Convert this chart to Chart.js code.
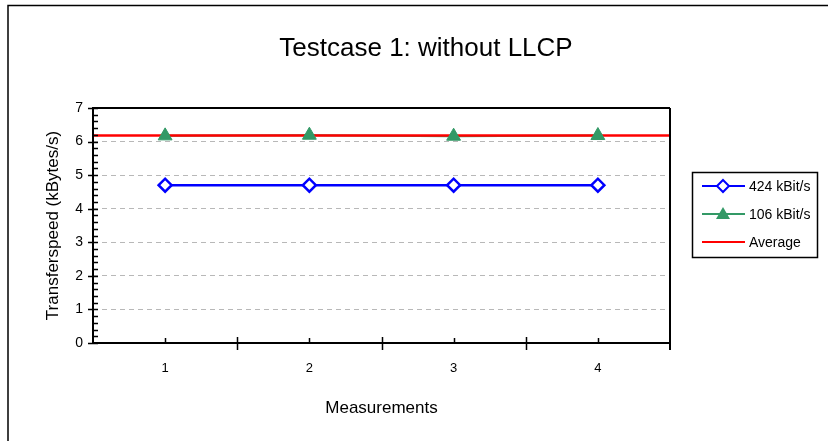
<!DOCTYPE html>
<html>
<head>
<meta charset="utf-8">
<script src="https://cdn.jsdelivr.net/npm/chart.js@4/dist/chart.umd.min.js"></script>
<style>
  body { margin: 0; background: #fff; }
  #wrap { width: 828px; height: 441px; }
</style>
</head>
<body>
<div id="wrap"><canvas id="line-chart" width="828" height="441"></canvas></div>
<script>
// Chart data
var chartTitle = "Testcase 1: without LLCP";
var measurements = ["1", "2", "3", "4"];
var speed424 = [4.7, 4.7, 4.7, 4.7];
var speed106 = [6.17, 6.19, 6.16, 6.18];
var averageLine = [6.18, 6.18];   // average of the 106 kBit/s run, drawn across the plot
var yMin = 0, yMax = 7, yStep = 1, yMinorStep = 0.2;

var FONT = '"Liberation Sans", Arial, sans-serif';
var BLUE = "#0000FF", GREEN = "#339966", RED = "#FF0000";

// frame, excel style ticks, title and legend
var excelFrame = {
    id: "excelFrame",
    beforeDraw: function(chart) {
        var c = chart.ctx;
        c.save();
        c.strokeStyle = "#000";
        c.lineWidth = 1.5;
        c.strokeRect(8, 5.5, 900, 500);
        c.restore();
    },
    afterDraw: function(chart) {
        var c = chart.ctx, a = chart.chartArea;
        var xs = chart.scales.x, ys = chart.scales.y;
        c.save();
        c.strokeStyle = "#000";

        // plot border
        c.lineWidth = 2;
        c.beginPath();
        c.moveTo(a.left, a.top); c.lineTo(a.right, a.top);
        c.moveTo(a.right, a.top); c.lineTo(a.right, a.bottom + 7);
        c.moveTo(a.left, a.top - 1); c.lineTo(a.left, a.bottom);
        c.moveTo(a.left, a.bottom); c.lineTo(a.right, a.bottom);
        c.stroke();

        // y ticks
        c.lineWidth = 1.5;
        c.beginPath();
        for (var v = yMin; v <= yMax + 0.001; v += yMinorStep) {
            var y = Math.round(ys.getPixelForValue(v)) + 0.5;
            var major = Math.abs(v - Math.round(v)) < 0.001;
            c.moveTo(major ? a.left - 5 : a.left, y);
            c.lineTo(a.left + 5, y);
        }
        // x ticks
        for (var i = 0; i < measurements.length; i++) {
            var xc = Math.round(xs.getPixelForValue(i)) + 0.5;
            c.moveTo(xc, a.bottom); c.lineTo(xc, a.bottom - 5);
            if (i > 0) {
                var xb = Math.round(xs.getPixelForValue(i - 0.5)) + 0.5;
                c.moveTo(xb, a.bottom - 6); c.lineTo(xb, a.bottom + 7);
            }
        }
        c.stroke();

        // title
        c.fillStyle = "#000";
        c.font = "26px " + FONT;
        c.textAlign = "center";
        c.textBaseline = "alphabetic";
        c.fillText(chartTitle, 426, 56);

        // legend
        var lx = 692.5, ly = 172.5, lw = 125, lh = 85;
        c.lineWidth = 1.5;
        c.strokeRect(lx, ly, lw, lh);
        var items = [
            {label: chart.data.datasets[0].label, color: BLUE, marker: "diamond"},
            {label: chart.data.datasets[1].label, color: GREEN, marker: "triangle"},
            {label: chart.data.datasets[3].label, color: RED, marker: null}
        ];
        c.font = "14px " + FONT;
        c.textAlign = "left";
        c.textBaseline = "middle";
        items.forEach(function(it, k) {
            var yy = 186 + k * 28;
            c.strokeStyle = it.color;
            c.lineWidth = 2;
            c.beginPath();
            c.moveTo(702, yy); c.lineTo(745, yy);
            c.stroke();
            var mx = 723;
            if (it.marker === "diamond") {
                c.fillStyle = "#fff";
                c.beginPath();
                c.moveTo(mx, yy - 6); c.lineTo(mx + 6, yy); c.lineTo(mx, yy + 6); c.lineTo(mx - 6, yy);
                c.closePath();
                c.fill(); c.stroke();
            } else if (it.marker === "triangle") {
                c.fillStyle = it.color;
                c.beginPath();
                c.moveTo(mx, yy - 7); c.lineTo(mx + 7, yy + 5); c.lineTo(mx - 7, yy + 5);
                c.closePath();
                c.fill();
            }
            c.fillStyle = "#000";
            c.fillText(it.label, 749, yy + 1);
        });
        c.restore();
    }
};

var ctx = document.getElementById("line-chart");

var chartData = {
    labels: measurements,
    datasets: [{
        label: "424 kBit/s",
        data: speed424,
        borderColor: BLUE,
        borderWidth: 2.5,
        pointStyle: "rectRot",
        pointRadius: 6.5,
        pointBorderWidth: 2.5,
        pointBorderColor: BLUE,
        pointBackgroundColor: "#FFF",
        order: 1
    }, {
        label: "106 kBit/s",
        data: speed106,
        borderColor: GREEN,
        borderWidth: 2,
        pointRadius: 0,
        order: 3
    }, {
        // markers of the 106 kBit/s run, drawn above the average line
        label: "106 kBit/s markers",
        data: speed106,
        showLine: false,
        pointStyle: "triangle",
        pointRadius: 8,
        pointBorderWidth: 1,
        pointBorderColor: GREEN,
        pointBackgroundColor: GREEN,
        order: 0
    }, {
        label: "Average",
        data: [{x: 0, y: averageLine[0]}, {x: 1, y: averageLine[1]}],
        xAxisID: "xAvg",
        borderColor: RED,
        borderWidth: 2.5,
        pointRadius: 0,
        order: 2
    }]
};

var config = {
    type: "line",
    data: chartData,
    plugins: [excelFrame],
    options: {
        responsive: false,
        animation: false,
        events: [],
        layout: { padding: { left: 43, right: 158, top: 108, bottom: 22 } },
        plugins: {
            legend: { display: false },
            title: { display: false },
            tooltip: { enabled: false }
        },
        scales: {
            x: {
                type: "category",
                offset: true,
                grid: { display: false, drawTicks: false },
                border: { display: false },
                ticks: { color: "#000", padding: 18, font: { family: FONT, size: 13 } },
                title: { display: true, text: "Measurements", color: "#000", padding: 0,
                         font: { family: FONT, size: 17 } },
                afterFit: function(s) { s.height = 76; }
            },
            xAvg: {
                type: "linear",
                display: false,
                min: 0,
                max: 1
            },
            y: {
                min: yMin,
                max: yMax,
                ticks: { stepSize: yStep, color: "#000", padding: 10, font: { family: FONT, size: 14 } },
                grid: {
                    drawTicks: false,
                    lineWidth: 1,
                    color: function(c) {
                        var v = c.tick ? c.tick.value : 0;
                        return (v === yMin || v === yMax) ? "rgba(0,0,0,0)" : "#B8B8B8";
                    },
                    borderDash: [5, 4]
                },
                border: { display: false, dash: [5, 4] },
                title: { display: true, text: "Transferspeed (kBytes/s)", color: "#000", padding: 0,
                         font: { family: FONT, size: 17 } },
                afterFit: function(s) { s.width = 50; }
            }
        }
    }
};

var lineChart = new Chart(ctx, config);
</script>
</body>
</html>
